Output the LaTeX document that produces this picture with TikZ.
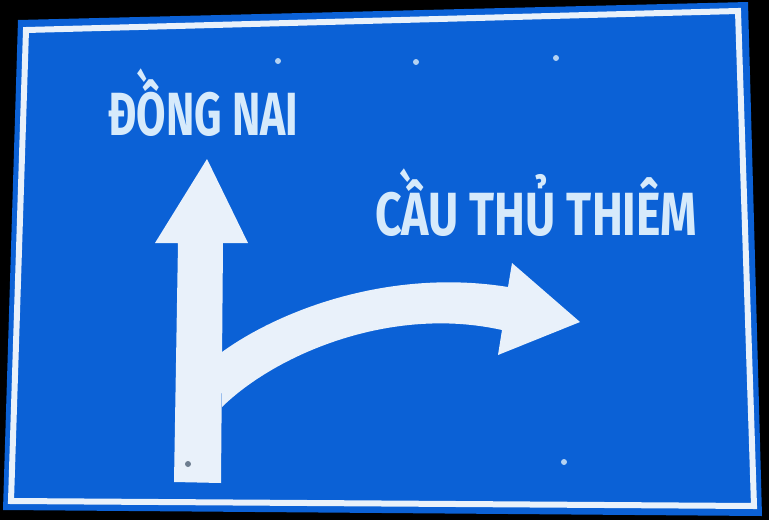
\documentclass[tikz,border=0pt]{standalone}
\usepackage{fontspec}
\newfontfamily\signfont[FakeStretch=0.7]{Fira Sans}
\newfontfamily\signfontwide[FakeStretch=0.76]{Fira Sans}
\usepackage{xcolor}
\definecolor{signBlue}{HTML}{0B61D6}
\definecolor{signWhite}{HTML}{E9F1FA}
\definecolor{signText}{HTML}{D6EAFB}
\definecolor{signBolt}{HTML}{B4D2F2}
\definecolor{signScrew}{HTML}{6E7E90}
\tikzset{
    panel/.style={
        fill=signBlue
    },
    rim/.style={
        draw=signWhite,
        line width=6pt,
        line join=miter
    },
    pointer/.style={
        fill=signWhite
    },
    placename/.style={
        text=signText,
        font=\signfont\bfseries\fontsize{61}{61}\selectfont,
        inner sep=0pt,
        anchor=base west
    },
    bolt/.style={
        fill=signBolt
    }
}

\begin{document}
\begin{tikzpicture}[x=1pt, y=-1pt]
    \useasboundingbox[fill=black] (0,0) rectangle (769,520);

    % Sign panel and white rim
    \fill[panel] (18,20) -- (748,2) -- (762,516) -- (3,510) -- cycle;
    \draw[rim] (26,30) -- (738,11) -- (754,506) -- (11,501) -- cycle;

    % Straight ahead arrow
    \fill[pointer] (178,243) -- (155,243) -- (207,159) -- (248,243) -- (223,243)
        -- (221,483) -- (174,482) -- cycle;

    % Right turn arrow
    \fill[pointer] (222,352) .. controls (280,310) and (390,268) .. (508,287)
        -- (512,263) -- (580,322) -- (498,355) -- (502,330)
        .. controls (390,305) and (275,355) .. (222,407) -- cycle;

    % Bolts
    \foreach \bx/\by in {278/61, 416/62, 556/58, 564/462} {
        \fill[bolt] (\bx,\by) circle (3pt);
    }
    \fill[signScrew] (188,464) circle (3pt);

    % Destinations
    \node[placename] (dongnai) at (108,135) {ĐỒNG NAI};
    \node[placename, font=\signfontwide\bfseries\fontsize{61}{61}\selectfont] (cauthuthiem) at (375,235) {CẦU THỦ THIÊM};
\end{tikzpicture}
\end{document}
